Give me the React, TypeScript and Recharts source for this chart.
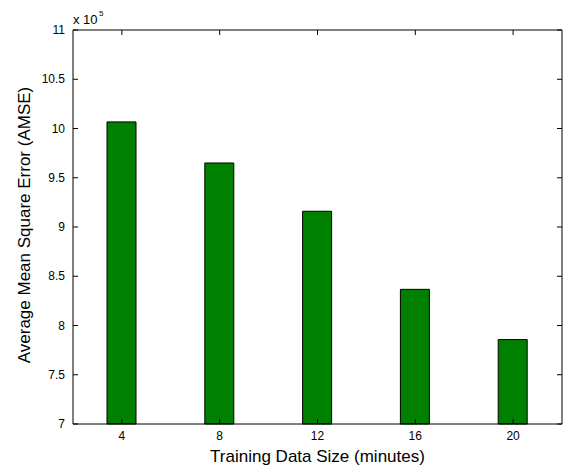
import React from "react";
import { BarChart, Bar, XAxis, YAxis } from "recharts";

const sizes = ["4", "8", "12", "16", "20"];
const amse = [10.067, 9.65, 9.16, 8.367, 7.857];
const yTicks = [7, 7.5, 8, 8.5, 9, 9.5, 10, 10.5, 11];

const data = sizes.map((s, i) => ({ size: s, amse: amse[i] }));

const FONT = "'Liberation Sans', Arial, Helvetica, sans-serif";

const LeftTick = (props: any) => {
    const { x, y, payload } = props;
    return (
        <g>
            <line x1={x} y1={y} x2={x + 5} y2={y} stroke="#000" />
            <text x={x - 8} y={y} dy={4} textAnchor="end" fontSize={12} fill="#000" fontFamily={FONT}>
                {payload.value}
            </text>
        </g>
    );
};

const RightTick = (props: any) => {
    const { x, y } = props;
    return <line x1={x} y1={y} x2={x - 5} y2={y} stroke="#000" />;
};

const BottomTick = (props: any) => {
    const { x, y, payload } = props;
    return (
        <g>
            <line x1={x} y1={y} x2={x} y2={y - 5} stroke="#000" />
            <text x={x} y={y + 16} textAnchor="middle" fontSize={12} fill="#000" fontFamily={FONT}>
                {payload.value}
            </text>
        </g>
    );
};

const TopTick = (props: any) => {
    const { x, y } = props;
    return <line x1={x} y1={y} x2={x} y2={y + 5} stroke="#000" />;
};

const YLabel = (props: any) => {
    const { viewBox } = props;
    const cy = viewBox.y + viewBox.height / 2 - 2;
    const right = viewBox.x + viewBox.width;
    return (
        <g fontFamily={FONT} fill="#000">
            <text x={30} y={cy} transform={`rotate(-90, 30, ${cy})`} textAnchor="middle" fontSize={17}>
                Average Mean Square Error (AMSE)
            </text>
            <text x={right} y={viewBox.y - 6} fontSize={13}>
                x 10
            </text>
            <text x={right + 26} y={viewBox.y - 14} fontSize={8}>
                5
            </text>
        </g>
    );
};

const XLabel = (props: any) => {
    const { viewBox } = props;
    return (
        <text
            x={viewBox.x + viewBox.width / 2}
            y={462}
            textAnchor="middle"
            fontSize={17}
            fill="#000"
            fontFamily={FONT}
        >
            Training Data Size (minutes)
        </text>
    );
};

export default function App() {
    return (
        <div style={{ position: "absolute", left: 0, top: 0, width: 572, height: 465, background: "#fff" }}>
            <BarChart width={572} height={465} data={data} margin={{ top: 29, right: 9, bottom: 0, left: 0 }}>
                <XAxis
                    dataKey="size"
                    height={41}
                    axisLine={{ stroke: "#000" }}
                    tickLine={false}
                    tickSize={0}
                    tickMargin={0}
                    tick={<BottomTick />}
                    label={<XLabel />}
                />
                <XAxis
                    xAxisId="t"
                    dataKey="size"
                    orientation="top"
                    height={1}
                    axisLine={{ stroke: "#000" }}
                    tickLine={false}
                    tickSize={0}
                    tickMargin={0}
                    tick={<TopTick />}
                />
                <YAxis
                    type="number"
                    domain={[7, 11]}
                    ticks={yTicks}
                    width={73}
                    axisLine={{ stroke: "#000" }}
                    tickLine={false}
                    tickSize={0}
                    tickMargin={0}
                    tick={<LeftTick />}
                    label={<YLabel />}
                />
                <YAxis
                    yAxisId="r"
                    orientation="right"
                    type="number"
                    domain={[7, 11]}
                    ticks={yTicks}
                    width={1}
                    axisLine={{ stroke: "#000" }}
                    tickLine={false}
                    tickSize={0}
                    tickMargin={0}
                    tick={<RightTick />}
                />
                <Bar dataKey="amse" fill="#008000" stroke="#000" strokeWidth={1} barSize={29} isAnimationActive={false} />
                <Bar
                    dataKey="amse"
                    xAxisId="t"
                    yAxisId="r"
                    fill="none"
                    stroke="none"
                    barSize={29}
                    isAnimationActive={false}
                />
            </BarChart>
        </div>
    );
}
